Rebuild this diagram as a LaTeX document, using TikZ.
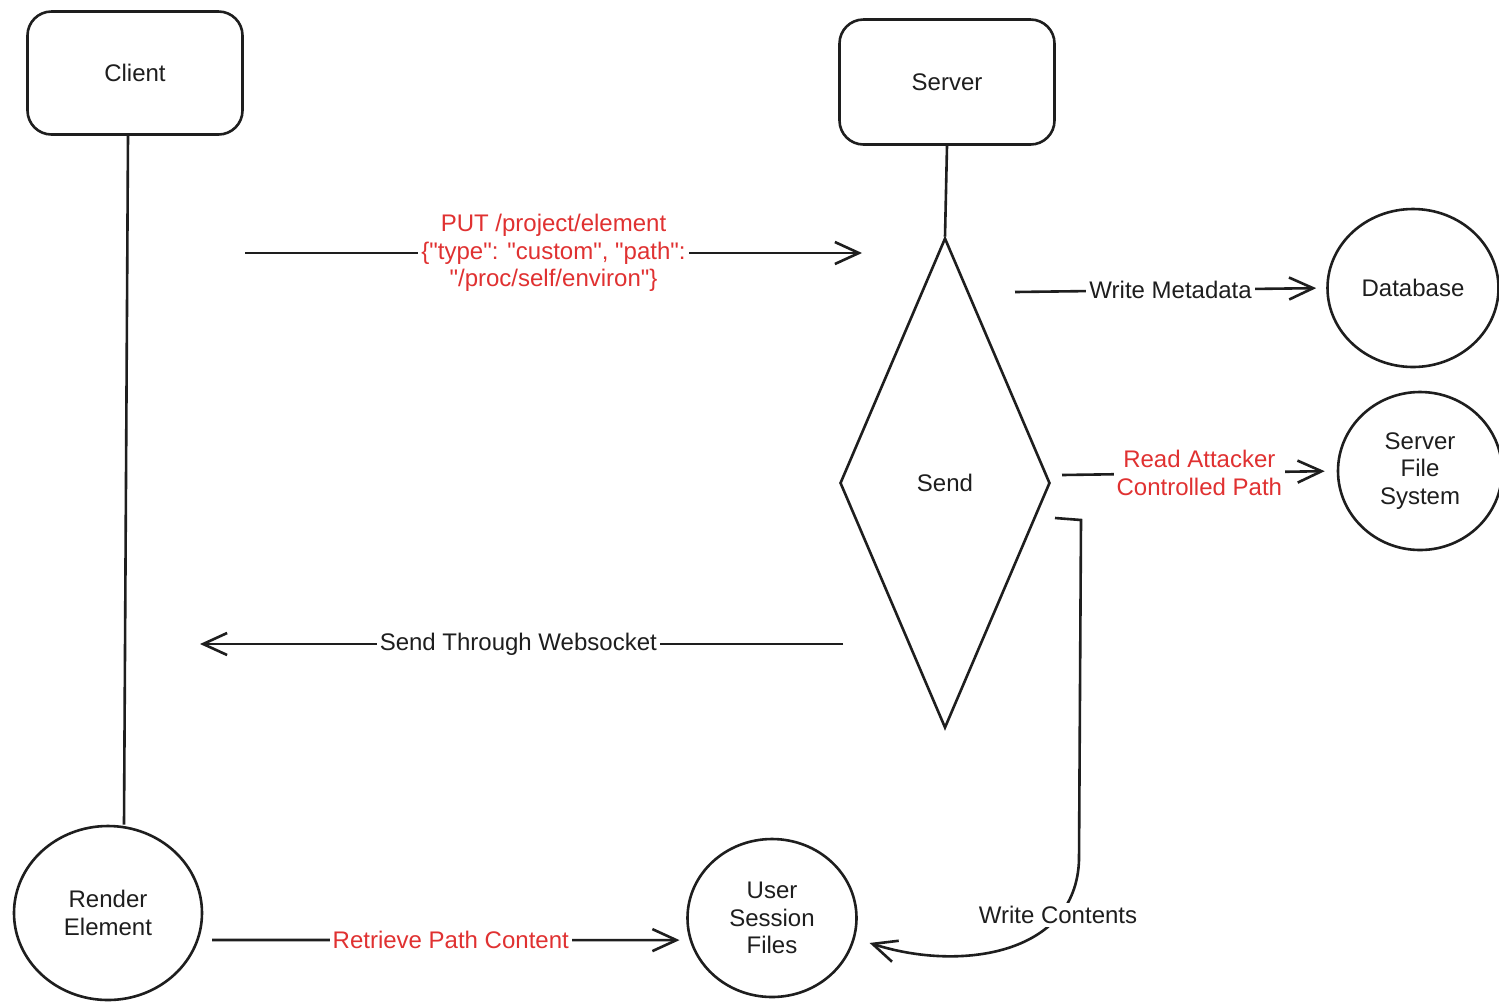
\documentclass[tikz,border=0pt]{standalone}
\usepackage{fontspec}
\setmainfont{Liberation Sans}
\newfontfamily\rawfont{Liberation Sans}
\usetikzlibrary{arrows.meta,shapes.geometric}
\definecolor{ink}{HTML}{1E1E1E}
\definecolor{redink}{HTML}{E03131}
\tikzset{
  txt/.style={font=\fontsize{12}{13.75}\selectfont, text=ink, align=center},
  boxnode/.style={txt, draw=ink, line width=1.3pt, rounded corners=12pt,
    minimum width=107.5pt, minimum height=61.5pt},
  blob/.style={txt, ellipse, draw=ink, line width=1.3pt, inner sep=0pt},
  decide/.style={txt, diamond, draw=ink, line width=1.3pt, inner sep=0pt,
    minimum width=105pt, minimum height=245pt},
  conn/.style={draw=ink, line width=1.3pt},
  arr/.style={conn, -{Straight Barb[length=12pt,width=11pt]}},
  lbl/.style={txt, fill=white, inner sep=1.5pt},
  redlbl/.style={lbl, text=redink},
}
\begin{document}
\begin{tikzpicture}[x=0.5pt,y=-0.5pt]
\useasboundingbox[fill=white] (0,0) rectangle (1499,1003);

% nodes
\node[boxnode] (client) at (135,73) {Client};
\node[boxnode, minimum height=62.5pt] (server) at (947,82) {Server};
\node[decide] (send) at (945,483) {Send};
\node[blob, minimum width=85.5pt, minimum height=79pt] (db) at (1413,288) {Database};
\node[blob, minimum width=82pt, minimum height=79pt] (sfs) at (1420,471) {Server\\File\\System};
\node[blob, minimum width=94pt, minimum height=87pt] (render) at (108,913) {Render\\Element};
\node[blob, minimum width=84.5pt, minimum height=79pt] (usf) at (772,918) {User\\Session\\Files};

% free ends
\coordinate (putA) at (245,253);
\coordinate (putB) at (862,253);
\coordinate (wmA) at (1015,292);
\coordinate (raA) at (1062,475);
\coordinate (wsA) at (843,644);
\coordinate (wsB) at (200,644);
\coordinate (rpA) at (212,940);
\coordinate (wcA) at (1055,518);

% lifelines
\draw[conn] ([xshift=-3.5pt]client.south) -- ([xshift=8pt]render.north);
\draw[conn] (server.south) -- (send.north);

% arrows
\draw[arr] (putA) -- (putB)
  node[redlbl, midway, font=\rawfont\fontsize{12}{13.75}\selectfont] {PUT /project/element\\\{"type": "custom", "path":\\"/proc/self/environ"\}};
\draw[arr, shorten >=5pt] (wmA) -- (db.west)
  node[lbl, midway] {Write Metadata};
\draw[arr, shorten >=6pt] (raA) -- (sfs.west)
  node[redlbl, midway] {Read Attacker\\Controlled Path};
\draw[arr] (wsA) -- (wsB)
  node[lbl, pos=0.505] {Send Through Websocket};
\draw[arr, shorten >=5pt] (rpA) -- (usf.195)
  node[redlbl, midway] {Retrieve Path Content};
\draw[arr] (wcA) -- (1081,520) -- (1079,860)
  .. controls (1076,955) and (960,972) .. ([xshift=8pt]usf.-17);
\node[lbl] (wclbl) at (1058,915) {Write Contents};
\end{tikzpicture}
\end{document}
